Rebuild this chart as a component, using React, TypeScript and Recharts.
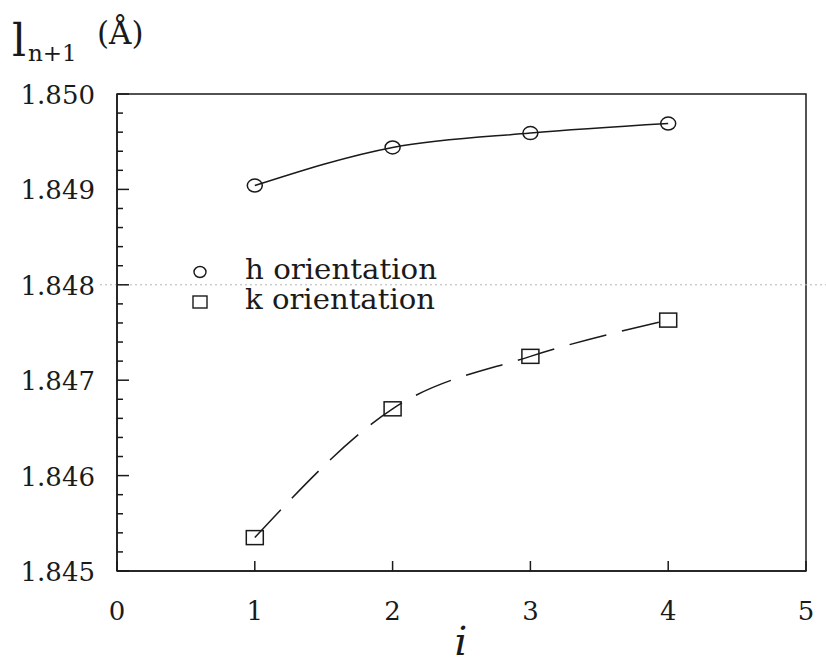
import { LineChart, Line, XAxis, YAxis, ReferenceArea, ReferenceLine } from 'recharts';

const I_VALUES = [1, 2, 3, 4];
const H_VALUES = [1.84904, 1.84944, 1.84959, 1.84969];
const K_VALUES = [1.84535, 1.8467, 1.84725, 1.84763];

const X_TICKS = [0, 1, 2, 3, 4, 5];
const Y_MAJOR = [1.845, 1.846, 1.847, 1.848, 1.849, 1.85];
const Y_LABELS = ['1.845', '1.846', '1.847', '1.848', '1.849', '1.850'];

const SERIES_NAMES = ['h orientation', 'k orientation'];

const FONT = '"DejaVu Serif", serif';
const INK = '#1a1a1a';

// major ticks plus four minor ticks in between each
const Y_TICKS: number[] = [];
Y_MAJOR.forEach((v, idx) => {
  Y_TICKS.push(v);
  if (idx < Y_MAJOR.length - 1) {
    for (let s = 1; s < 5; s++) Y_TICKS.push(+(v + s * 0.0002).toFixed(4));
  }
});

const data = I_VALUES.map((i, idx) => ({ i, h: H_VALUES[idx], k: K_VALUES[idx] }));

const isMajor = (v: number) => Math.abs(v * 1000 - Math.round(v * 1000)) < 1e-6;

const YTick = ({ x, y, payload }: any) => {
  const v = payload.value;
  const axisX = x + 22;
  if (!isMajor(v)) {
    return <line x1={axisX} x2={axisX + 6} y1={y} y2={y} stroke={INK} strokeWidth={1.5} />;
  }
  const label = Y_LABELS[Y_MAJOR.findIndex((m) => Math.abs(m - v) < 1e-7)];
  return (
    <g>
      <line x1={axisX} x2={axisX + 12} y1={y} y2={y} stroke={INK} strokeWidth={1.5} />
      <text x={x} y={y + 10} textAnchor="end" fontFamily={FONT} fontSize={26} fill={INK}>
        {label}
      </text>
    </g>
  );
};

const XTick = ({ x, y, payload }: any) => (
  <g>
    <line x1={x} x2={x} y1={y} y2={y - 10} stroke={INK} strokeWidth={1.5} />
    <text x={x} y={y + 49} textAnchor="middle" fontFamily={FONT} fontSize={26} fill={INK}>
      {payload.value}
    </text>
  </g>
);

const CircleDot = ({ cx, cy, index }: any) => (
  <ellipse key={`c-${index}`} cx={cx} cy={cy} rx={7.5} ry={6.5} fill="none" stroke={INK} strokeWidth={1.5} />
);

const SquareDot = ({ cx, cy, index }: any) => (
  <rect key={`s-${index}`} x={cx - 8.5} y={cy - 7} width={17} height={14} fill="none" stroke={INK} strokeWidth={1.5} />
);

const DottedScanLine = ({ y1 }: any) => (
  <line x1={100} x2={826} y1={y1} y2={y1} stroke="#b5b5b5" strokeWidth={1} strokeDasharray="2 3" />
);

export default function App() {
  return (
    <div style={{ position: 'absolute', left: 0, top: 0, background: '#fff' }}>
      <LineChart width={826} height={663} data={data} margin={{ top: 94, right: 20, bottom: 0, left: 0 }}>
        <XAxis
          type="number"
          dataKey="i"
          domain={[0, 5]}
          ticks={X_TICKS}
          tick={<XTick />}
          tickLine={false}
          tickSize={0}
          tickMargin={0}
          height={92}
          axisLine={{ stroke: INK, strokeWidth: 1.5 }}
          interval={0}
        />
        <YAxis
          type="number"
          domain={[1.845, 1.85]}
          ticks={Y_TICKS}
          tick={<YTick />}
          tickLine={false}
          tickSize={0}
          tickMargin={22}
          width={117}
          axisLine={{ stroke: INK, strokeWidth: 1.5 }}
          interval={0}
          allowDataOverflow
        />
        <ReferenceLine y={1.848} shape={<DottedScanLine />} ifOverflow="visible" />
        <ReferenceArea x1={0} x2={5} y1={1.845} y2={1.85} fill="none" fillOpacity={0} stroke={INK} strokeWidth={1.5} />
        <Line
          dataKey="h"
          name={SERIES_NAMES[0]}
          type="monotone"
          stroke={INK}
          strokeWidth={1.5}
          dot={<CircleDot />}
          activeDot={false}
          isAnimationActive={false}
        />
        <Line
          dataKey="k"
          name={SERIES_NAMES[1]}
          type="monotone"
          stroke={INK}
          strokeWidth={1.5}
          strokeDasharray="38 16"
          dot={<SquareDot />}
          activeDot={false}
          isAnimationActive={false}
        />

        {/* legend, drawn in place inside the plot */}
        <ellipse cx={200} cy={272} rx={6} ry={5.5} fill="none" stroke={INK} strokeWidth={1.4} />
        <text x={245} y={279} fontFamily={FONT} fontSize={28} textLength={192} lengthAdjust="spacingAndGlyphs" fill={INK}>
          {SERIES_NAMES[0]}
        </text>
        <rect x={193} y={296} width={14} height={12} fill="none" stroke={INK} strokeWidth={1.4} />
        <text x={245} y={309} fontFamily={FONT} fontSize={28} textLength={190} lengthAdjust="spacingAndGlyphs" fill={INK}>
          {SERIES_NAMES[1]}
        </text>

        {/* axis titles */}
        <text x={12} y={56} fontFamily={FONT} fontSize={44} fill={INK}>l</text>
        <text x={28} y={61} fontFamily={FONT} fontSize={23} fill={INK}>n+1</text>
        <text x={97} y={44} fontFamily={FONT} fontSize={31} fill={INK}>(Å)</text>
        <text x={461} y={655} textAnchor="middle" fontFamily={FONT} fontSize={40} fontStyle="italic" fill={INK}>i</text>
      </LineChart>
    </div>
  );
}
